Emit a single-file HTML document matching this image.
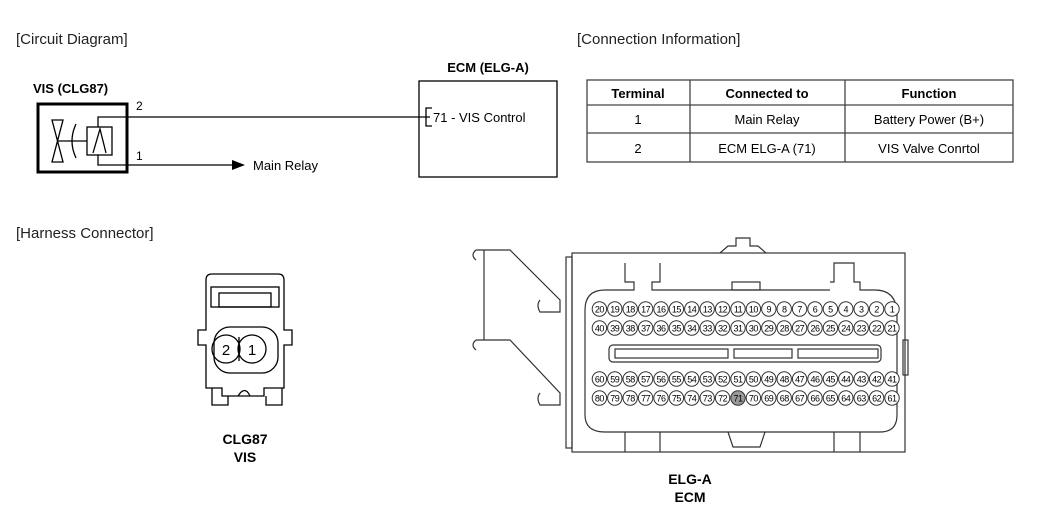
<!DOCTYPE html>
<html><head><meta charset="utf-8"><style>
html,body{margin:0;padding:0;background:#fff;}
svg{display:block;font-family:"Liberation Sans",Arial,sans-serif;}
</style></head><body>
<svg width="1050" height="529" viewBox="0 0 1050 529" xmlns="http://www.w3.org/2000/svg">
<defs><circle id="p" r="7.2" fill="#fff" stroke="#333" stroke-width="1"/></defs>
<g font-size="15" fill="#222">
<text x="16" y="44">[Circuit Diagram]</text>
<text x="577" y="44">[Connection Information]</text>
<text x="16" y="238">[Harness Connector]</text>
</g>
<!-- VIS -->
<text x="33" y="93" font-size="13" font-weight="bold">VIS (CLG87)</text>
<rect x="38" y="104" width="89" height="68" fill="none" stroke="#000" stroke-width="3"/>
<g stroke="#000" stroke-width="1.3" fill="none">
<polygon points="52,120 63,120 52,162 63,162"/>
<line x1="57" y1="141" x2="87" y2="141"/>
<path d="M76,124 Q68,141 76,158"/>
<rect x="87" y="127" width="25" height="28"/>
<polyline points="93,153 100,129 106,153"/>
<polyline points="98,127 98,117 430,117"/>
<polyline points="98,155 98,165 232,165"/>
<polyline points="432,108 426,108 426,126 432,126"/>
</g>
<polygon points="232,160 245,165 232,170" fill="#000"/>
<text x="136" y="110" font-size="12">2</text>
<text x="136" y="160" font-size="12">1</text>
<text x="253" y="170" font-size="13">Main Relay</text>
<!-- ECM -->
<text x="488" y="72" font-size="13" font-weight="bold" text-anchor="middle">ECM (ELG-A)</text>
<rect x="419" y="81" width="138" height="96" fill="none" stroke="#000" stroke-width="1.3"/>
<text x="433" y="122" font-size="13">71 - VIS Control</text>
<!-- table -->
<g stroke="#444" stroke-width="1.3" fill="none">
<rect x="587" y="80" width="426" height="82"/>
<line x1="587" y1="105" x2="1013" y2="105"/>
<line x1="587" y1="133" x2="1013" y2="133"/>
<line x1="690" y1="80" x2="690" y2="162"/>
<line x1="845" y1="80" x2="845" y2="162"/>
</g>
<g font-size="13" text-anchor="middle">
<text x="638" y="98" font-weight="bold">Terminal</text>
<text x="767" y="98" font-weight="bold">Connected to</text>
<text x="929" y="98" font-weight="bold">Function</text>
<text x="638" y="124">1</text><text x="767" y="124">Main Relay</text><text x="929" y="124">Battery Power (B+)</text>
<text x="638" y="153">2</text><text x="767" y="153">ECM ELG-A (71)</text><text x="929" y="153">VIS Valve Conrtol</text>
</g>
<!-- small connector -->
<g stroke="#000" stroke-width="1.3" fill="none">
<path d="M206,280 Q206,274 212,274 L278,274 Q284,274 284,280 L284,330 L292,330 L292,345 L284,345 L284,388 L264,388 L264,396 L222,396 L222,388 L206,388 L206,345 L198,345 L198,330 L206,330 Z"/>
<rect x="211" y="287" width="68" height="20"/>
<rect x="219" y="293" width="52" height="14"/>
<rect x="214" y="327" width="64" height="46" rx="16"/>
<circle cx="226" cy="349" r="14"/><circle cx="252" cy="349" r="14"/>
<line x1="239" y1="337" x2="239" y2="361"/>
<path d="M212,388 L212,405 L228,405 L228,396 M282,388 L282,405 L266,405 L266,396 M238,396 Q245,385 250,396"/>
</g>
<text x="226" y="355" font-size="15" text-anchor="middle">2</text>
<text x="252" y="355" font-size="15" text-anchor="middle">1</text>
<text x="245" y="444" font-size="14" font-weight="bold" text-anchor="middle">CLG87</text>
<text x="245" y="462" font-size="14" font-weight="bold" text-anchor="middle">VIS</text>
<!-- ECM connector -->
<g stroke="#333" stroke-width="1.2" fill="none">
<rect x="572" y="253" width="333" height="199"/>
<rect x="566" y="257" width="6" height="191"/>
<path d="M476,250 L510,250 L560,300 L560,312 L540,312 Q536,305 540,300 M484,250 L484,340 M476,340 L510,340 L560,393 L560,405 L540,405 Q536,398 540,393"/>
<path d="M476,250 Q470,255 476,260 M476,340 Q470,345 476,350"/>
<path d="M720,253 L728,246 L736,246 L736,238 L750,238 L750,246 L758,246 L766,253"/>
<path d="M625,263 L625,282 L634,282 L634,290 L605,290 Q585,290 585,310 L585,415 Q585,432 605,432 L880,432 Q897,432 897,415 L897,315 Q897,290 875,290 L860,290 L860,282 L854,282 L854,263 L834,263 L834,282 L830,282 M660,263 L660,282 L652,282 L652,290 L830,290"/>
<rect x="732" y="282" width="28" height="8"/>
<path d="M625,452 L625,432 M660,452 L660,432 M834,452 L834,432 M860,452 L860,432"/>
<path d="M728,432 L733,447 L760,447 L765,432"/>
<rect x="609" y="345" width="272" height="17" rx="4"/>
<rect x="615" y="349" width="113" height="9"/>
<rect x="734" y="349" width="58" height="9"/>
<rect x="798" y="349" width="80" height="9"/>
<rect x="903" y="340" width="5" height="35"/>
</g>
<!-- pins: circles -->
<g>
<g transform="translate(0,309)"><use href="#p" x="892"/><use href="#p" x="876.6"/><use href="#p" x="861.2"/><use href="#p" x="845.8"/><use href="#p" x="830.4"/><use href="#p" x="815"/><use href="#p" x="799.6"/><use href="#p" x="784.2"/><use href="#p" x="768.8"/><use href="#p" x="753.4"/><use href="#p" x="738"/><use href="#p" x="722.6"/><use href="#p" x="707.2"/><use href="#p" x="691.8"/><use href="#p" x="676.4"/><use href="#p" x="661"/><use href="#p" x="645.6"/><use href="#p" x="630.2"/><use href="#p" x="614.8"/><use href="#p" x="599.4"/></g>
<g transform="translate(0,328)"><use href="#p" x="892"/><use href="#p" x="876.6"/><use href="#p" x="861.2"/><use href="#p" x="845.8"/><use href="#p" x="830.4"/><use href="#p" x="815"/><use href="#p" x="799.6"/><use href="#p" x="784.2"/><use href="#p" x="768.8"/><use href="#p" x="753.4"/><use href="#p" x="738"/><use href="#p" x="722.6"/><use href="#p" x="707.2"/><use href="#p" x="691.8"/><use href="#p" x="676.4"/><use href="#p" x="661"/><use href="#p" x="645.6"/><use href="#p" x="630.2"/><use href="#p" x="614.8"/><use href="#p" x="599.4"/></g>
<g transform="translate(0,379)"><use href="#p" x="892"/><use href="#p" x="876.6"/><use href="#p" x="861.2"/><use href="#p" x="845.8"/><use href="#p" x="830.4"/><use href="#p" x="815"/><use href="#p" x="799.6"/><use href="#p" x="784.2"/><use href="#p" x="768.8"/><use href="#p" x="753.4"/><use href="#p" x="738"/><use href="#p" x="722.6"/><use href="#p" x="707.2"/><use href="#p" x="691.8"/><use href="#p" x="676.4"/><use href="#p" x="661"/><use href="#p" x="645.6"/><use href="#p" x="630.2"/><use href="#p" x="614.8"/><use href="#p" x="599.4"/></g>
<g transform="translate(0,398)"><use href="#p" x="892"/><use href="#p" x="876.6"/><use href="#p" x="861.2"/><use href="#p" x="845.8"/><use href="#p" x="830.4"/><use href="#p" x="815"/><use href="#p" x="799.6"/><use href="#p" x="784.2"/><use href="#p" x="768.8"/><use href="#p" x="753.4"/><circle cx="738" r="7.2" fill="#999" stroke="#333" stroke-width="1"/><use href="#p" x="722.6"/><use href="#p" x="707.2"/><use href="#p" x="691.8"/><use href="#p" x="676.4"/><use href="#p" x="661"/><use href="#p" x="645.6"/><use href="#p" x="630.2"/><use href="#p" x="614.8"/><use href="#p" x="599.4"/></g>
</g>
<g font-size="9" text-anchor="middle" letter-spacing="-0.5">
<g transform="translate(0,312.3)"><text x="892">1</text><text x="876.6">2</text><text x="861.2">3</text><text x="845.8">4</text><text x="830.4">5</text><text x="815">6</text><text x="799.6">7</text><text x="784.2">8</text><text x="768.8">9</text><text x="753.4">10</text><text x="738">11</text><text x="722.6">12</text><text x="707.2">13</text><text x="691.8">14</text><text x="676.4">15</text><text x="661">16</text><text x="645.6">17</text><text x="630.2">18</text><text x="614.8">19</text><text x="599.4">20</text></g>
<g transform="translate(0,331.3)"><text x="892">21</text><text x="876.6">22</text><text x="861.2">23</text><text x="845.8">24</text><text x="830.4">25</text><text x="815">26</text><text x="799.6">27</text><text x="784.2">28</text><text x="768.8">29</text><text x="753.4">30</text><text x="738">31</text><text x="722.6">32</text><text x="707.2">33</text><text x="691.8">34</text><text x="676.4">35</text><text x="661">36</text><text x="645.6">37</text><text x="630.2">38</text><text x="614.8">39</text><text x="599.4">40</text></g>
<g transform="translate(0,382.3)"><text x="892">41</text><text x="876.6">42</text><text x="861.2">43</text><text x="845.8">44</text><text x="830.4">45</text><text x="815">46</text><text x="799.6">47</text><text x="784.2">48</text><text x="768.8">49</text><text x="753.4">50</text><text x="738">51</text><text x="722.6">52</text><text x="707.2">53</text><text x="691.8">54</text><text x="676.4">55</text><text x="661">56</text><text x="645.6">57</text><text x="630.2">58</text><text x="614.8">59</text><text x="599.4">60</text></g>
<g transform="translate(0,401.3)"><text x="892">61</text><text x="876.6">62</text><text x="861.2">63</text><text x="845.8">64</text><text x="830.4">65</text><text x="815">66</text><text x="799.6">67</text><text x="784.2">68</text><text x="768.8">69</text><text x="753.4">70</text><text x="738">71</text><text x="722.6">72</text><text x="707.2">73</text><text x="691.8">74</text><text x="676.4">75</text><text x="661">76</text><text x="645.6">77</text><text x="630.2">78</text><text x="614.8">79</text><text x="599.4">80</text></g>
</g>
<text x="690" y="484" font-size="14" font-weight="bold" text-anchor="middle">ELG-A</text>
<text x="690" y="502" font-size="14" font-weight="bold" text-anchor="middle">ECM</text>
</svg>
</body></html>
